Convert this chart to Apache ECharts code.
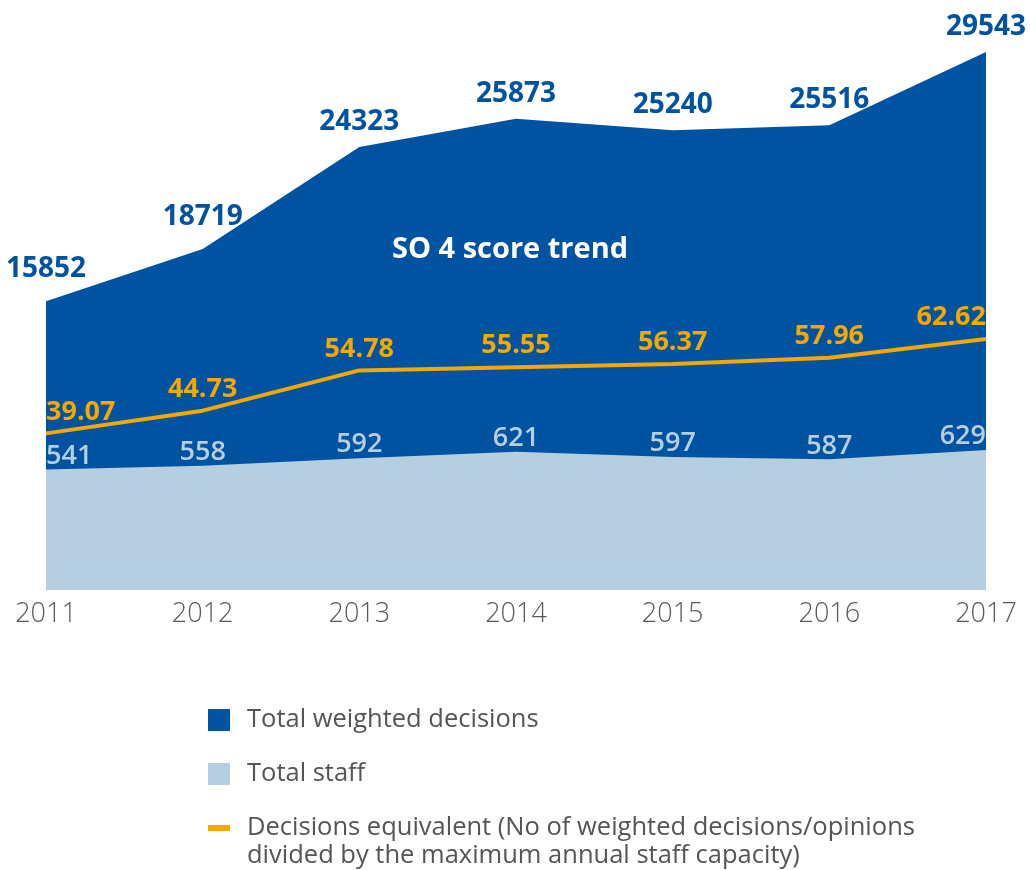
<!DOCTYPE html>
<html>
<head>
<meta charset="utf-8">
<script src="https://cdn.jsdelivr.net/npm/echarts@6/dist/echarts.min.js"></script>
<style>
  html, body { margin: 0; padding: 0; background: #fff; }
  #chart { width: 1030px; height: 870px; }
</style>
</head>
<body>
<div id="chart"></div>
<script>
// data
const years = ['2011', '2012', '2013', '2014', '2015', '2016', '2017']
const weightedDecisions = [15852, 18719, 24323, 25873, 25240, 25516, 29543]
const totalStaff = [541, 558, 592, 621, 597, 587, 629]
const decisionsEquivalent = [39.07, 44.73, 54.78, 55.55, 56.37, 57.96, 62.62]

const DARK = '#0053a1'
const LIGHT = '#b5cfe1'
const ORANGE = '#f6a800'
const FONT = 'Open Sans'

// first label leans right, last leans left (like the original)
function edgeLabels (arr) {
  return arr.map((v, i) => {
    if (i === 0) return { value: v, label: { align: 'left' } }
    if (i === arr.length - 1) return { value: v, label: { align: 'right' } }
    return v
  })
}

// the first two dark labels sit a bit higher in the original
function darkLabels (arr) {
  return arr.map((v, i) => (i < 2 ? { value: v, label: { distance: 18 } } : v))
}

const chart = echarts.init(document.getElementById('chart'))

const option = {
  animation: false,
  backgroundColor: '#fff',
  title: {
    text: 'SO 4 score trend',
    left: 505,
    top: 230,
    textAlign: 'center',
    textStyle: { color: '#fff', fontSize: 29, fontWeight: 'bold', fontFamily: FONT }
  },
  grid: { left: 46, right: 44, top: 52, bottom: 280 },
  xAxis: {
    type: 'category',
    data: years,
    boundaryGap: false,
    axisLine: { show: false },
    axisTick: { show: false },
    splitLine: { show: false },
    axisLabel: { color: '#5a5a5a', fontSize: 27, fontWeight: 300, fontFamily: FONT, margin: 11 }
  },
  yAxis: [
    { type: 'value', min: 0, max: 29543, show: false },
    { type: 'value', min: 0, max: 2417, show: false },
    { type: 'value', min: 0, max: 134.2, show: false }
  ],
  legend: {
    orient: 'vertical',
    left: 203,
    top: 700,
    itemWidth: 22,
    itemHeight: 22,
    itemGap: 24,
    selectedMode: false,
    textStyle: { color: '#555', fontSize: 25.5, fontFamily: FONT, fontWeight: 400, padding: [0, 0, 0, 12], lineHeight: 30 },
    data: [
      { name: 'Total weighted decisions', icon: 'rect' },
      { name: 'Total staff', icon: 'rect' },
      { name: 'Decisions equivalent (No of weighted decisions/opinions', icon: 'path://M0,0H22V6H0Z' }
    ]
  },
  graphic: [{
    type: 'text',
    left: 247,
    top: 843,
    style: { text: 'divided by the maximum annual staff capacity)', fill: '#555', fontSize: 25.5, fontFamily: FONT, fontWeight: 400 }
  }],
  series: [
    {
      name: 'Total weighted decisions',
      type: 'line',
      yAxisIndex: 0,
      data: darkLabels(weightedDecisions),
      symbol: 'circle',
      symbolSize: 0,
      showSymbol: true,
      color: DARK,
      lineStyle: { width: 0 },
      areaStyle: { color: DARK, opacity: 1 },
      label: {
        show: true, position: 'top', distance: 11,
        color: DARK, fontSize: 28, fontWeight: 'bold', fontFamily: FONT
      },
      z: 1
    },
    {
      name: 'Total staff',
      type: 'line',
      yAxisIndex: 1,
      data: edgeLabels(totalStaff),
      symbol: 'circle',
      symbolSize: 0,
      showSymbol: true,
      color: LIGHT,
      lineStyle: { width: 0 },
      areaStyle: { color: LIGHT, opacity: 1 },
      label: {
        show: true, position: 'top', distance: 0,
        color: LIGHT, fontSize: 27, fontWeight: 600, fontFamily: FONT
      },
      z: 2
    },
    {
      name: 'Decisions equivalent (No of weighted decisions/opinions',
      type: 'line',
      yAxisIndex: 2,
      data: edgeLabels(decisionsEquivalent),
      symbol: 'circle',
      symbolSize: 0,
      showSymbol: true,
      color: ORANGE,
      lineStyle: { width: 4, color: ORANGE },
      label: {
        show: true, position: 'top', distance: 8,
        color: ORANGE, fontSize: 27, fontWeight: 'bold', fontFamily: FONT,
        formatter: p => p.value.toFixed(2)
      },
      z: 3
    }
  ]
}

chart.setOption(option)
window.addEventListener('resize', () => chart.resize())
</script>
</body>
</html>
